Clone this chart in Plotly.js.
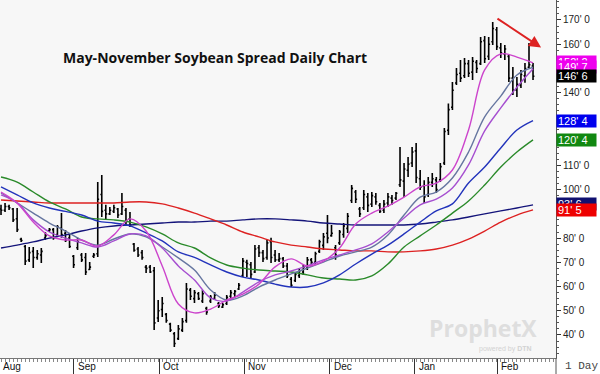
<!DOCTYPE html>
<html><head><meta charset="utf-8">
<script src="https://cdn.plot.ly/plotly-3.0.1.min.js"></script>
<style>html,body{margin:0;padding:0;background:#fff}#chart{width:600px;height:374px}</style>
</head><body><div id="chart"></div>
<script>
// Daily bars (index = trading day from early Aug)
const high  = [93.7,94.5,93.7,92.4,92.4,80.1,77.1,76.3,76.3,75.1,75.9,82.5,84.2,84.2,85.4,90.3,83.3,82.1,73.0,80.1,73.8,73.8,70.1,73.8,103.1,106.0,93.7,92.8,93.7,92.4,98.6,92.4,90.8,78.0,76.3,75.1,68.9,68.9,68.1,54.4,55.7,49.1,45.0,41.2,44.1,47.0,61.5,59.4,58.6,57.7,58.6,51.6,56.5,57.7,53.6,53.2,56.5,58.6,58.6,61.5,71.8,71.0,70.1,77.1,77.1,75.1,79.3,80.1,75.1,73.8,72.2,69.7,63.9,66.0,67.6,68.9,72.2,71.8,74.3,79.3,82.1,89.5,85.4,77.1,83.3,86.2,90.3,101.9,99.8,92.8,99.8,98.6,99.0,98.6,94.5,95.7,98.6,97.8,99.0,117.6,111.0,113.5,117.6,119.2,108.1,103.9,105.2,106.9,105.2,111.0,125.4,135.5,144.4,150.2,153.5,154.3,153.5,154.7,153.5,163.0,163.4,163.0,169.2,167.1,160.5,159.7,155.6,150.6,146.5,149.4,152.3,160.5,152.3];
const low   = [89.5,90.8,91.6,86.6,82.5,78.4,68.9,70.1,67.6,71.0,69.7,79.3,82.5,79.3,80.9,80.1,78.4,75.9,67.6,75.1,70.1,64.8,66.8,71.8,72.2,88.7,87.5,89.5,90.3,88.3,89.5,85.4,84.6,74.3,72.2,71.0,65.6,65.6,42.1,45.4,47.4,45.0,41.2,35.0,37.9,41.2,45.0,54.4,53.2,54.4,53.2,48.3,53.2,54.4,51.1,51.1,52.4,55.3,55.7,58.6,63.9,63.9,63.5,65.6,72.2,70.1,71.0,69.7,70.1,70.1,67.6,63.5,59.8,61.9,63.5,64.8,66.8,68.1,68.9,73.8,75.1,77.9,80.5,71.0,77.1,80.1,82.1,94.5,94.5,88.7,91.6,90.8,92.8,93.7,90.3,90.3,92.8,93.7,95.7,101.1,96.9,105.2,109.3,102.7,99.8,94.5,96.9,101.1,98.6,103.1,110.2,122.5,132.9,143.2,144.4,146.1,146.5,145.2,148.1,151.4,152.3,153.5,159.7,157.6,154.3,153.5,144.4,139.0,138.2,141.9,144.1,150.2,145.2];
const close = [91.5,93.0,92.5,87.5,83.5,79.0,70.5,74.0,72.0,73.5,74.5,81.0,83.5,80.0,84.5,81.5,79.0,76.5,69.0,78.5,71.0,66.0,68.0,73.0,96.0,91.0,90.0,91.5,92.5,89.5,93.0,87.0,85.5,75.0,73.0,72.0,67.5,66.0,45.0,50.0,53.0,46.0,42.0,36.5,42.5,45.5,59.0,56.0,57.5,55.0,57.0,49.5,55.5,56.5,52.0,52.5,55.5,57.5,58.0,60.5,70.5,69.5,65.0,75.5,74.0,71.5,78.0,72.0,71.0,71.5,68.5,64.5,60.5,65.0,66.5,68.0,71.0,70.0,73.5,78.5,80.5,80.0,82.0,73.0,82.5,85.0,89.0,100.5,96.0,90.0,98.0,93.5,97.5,95.0,91.0,94.0,97.0,95.5,98.5,104.0,108.5,110.5,115.5,105.0,101.0,97.0,103.0,104.5,100.0,109.5,124.0,133.0,141.0,147.5,146.0,152.0,148.0,153.0,150.0,161.0,154.0,160.0,166.5,159.0,156.5,158.0,146.0,141.0,143.5,147.5,150.0,151.5,146.75];
const open  = [92.0,91.5,93.0,92.0,88.0,79.5,76.5,71.0,74.5,72.0,73.0,80.0,83.0,83.5,81.5,84.0,82.0,80.0,72.5,76.0,73.0,72.0,67.0,72.5,73.5,98.0,91.5,90.0,91.0,92.0,90.0,91.5,88.0,77.5,75.5,74.0,68.0,68.0,66.5,47.0,50.5,48.5,44.5,40.5,38.5,42.0,46.0,58.5,55.0,57.0,54.0,51.0,54.0,55.0,53.0,51.5,53.0,56.0,57.0,59.0,64.5,70.0,69.0,66.0,76.0,74.0,72.0,78.5,73.0,71.0,71.5,68.5,63.0,62.5,64.5,66.0,67.5,71.0,70.0,74.5,77.0,82.0,81.0,76.0,78.0,81.5,84.0,95.5,99.0,92.0,92.5,97.0,94.0,97.0,93.5,91.5,94.5,96.5,96.5,102.0,103.5,108.0,111.0,116.0,104.5,101.5,98.0,103.0,104.0,104.0,111.0,124.5,134.0,144.0,148.0,147.0,152.0,148.5,152.5,152.0,161.5,155.0,161.0,166.0,158.5,156.0,155.0,146.0,141.0,143.0,147.0,150.5,151.0];

// Moving averages read at sample days
const maDay   = [0,4,8,12,16,20,24,28,32,36,40,44,48,52,56,60,64,68,72,76,80,84,88,92,96,100,104,108,112,116,120,124,128,132];
const maFast  = [99.0,94.5,86.6,80.9,79.2,79.2,76.7,81.3,87.9,82.9,68.5,52.8,49.1,50.7,54.4,56.9,61.0,68.1,71.4,68.5,70.5,75.9,85.8,90.3,93.2,96.9,101.1,102.7,108.1,124.6,149.4,156.0,154.7,152.3];
const maViolet= [97.8,94.5,87.5,82.5,80.0,78.0,76.3,78.8,81.7,80.9,75.9,68.5,62.7,55.3,54.0,57.7,61.9,64.8,66.4,68.5,71.0,73.0,75.1,77.6,82.5,88.3,93.7,96.1,100.7,110.2,124.2,133.7,142.3,149.9];
const maSlate = [98.6,94.5,90.3,86.2,82.9,79.2,77.1,79.6,81.7,80.5,76.3,71.8,66.8,58.6,54.4,56.1,59.8,62.7,65.2,67.6,70.1,72.6,74.3,76.3,81.3,89.5,96.9,99.0,104.8,115.5,130.0,138.6,147.3,150.5];
const maBlue  = [101.1,97.8,94.5,92.4,91.0,89.5,87.0,86.2,85.0,82.1,78.8,74.3,72.0,68.9,66.0,63.9,62.7,61.0,59.8,59.8,61.5,64.8,69.3,73.4,77.1,81.7,86.6,91.2,94.1,102.7,109.3,117.2,124.6,128.5];
const maGreen = [105.2,103.1,99.0,94.9,92.0,88.7,87.9,87.5,86.6,84.6,81.7,78.0,75.9,71.8,68.9,67.6,66.8,66.4,66.0,64.8,63.5,63.1,62.7,64.4,69.3,76.3,80.9,85.4,90.3,95.3,101.9,109.3,115.5,120.5];
const maRed   = [95.7,95.3,94.9,94.5,94.5,94.5,94.5,94.5,94.9,94.9,94.1,92.4,90.3,87.9,85.4,82.5,80.5,78.4,77.1,76.3,75.5,75.1,74.7,74.7,74.3,74.3,74.7,75.5,77.1,79.6,82.9,86.6,89.5,91.6];
const maNavy  = [75.9,77.1,78.4,80.0,81.3,82.9,84.2,85.0,85.4,85.8,86.2,86.6,86.6,87.0,87.0,87.5,87.9,87.9,87.5,87.0,86.2,85.8,85.4,85.4,85.4,85.4,85.8,86.6,87.5,88.7,90.0,91.2,92.4,93.7];

const monthNames = ["Sep","Oct","Nov","Dec","Jan","Feb"];
const monthStart = [18.1,39.2,60.3,81.6,102.7,123.1];
const yTicks = [40,50,60,70,80,90,100,110,120,130,140,150,160,170];
// 90, 120, 130 and 150 are covered by the last-value boxes in the reference
const yTickText = ["40' 0","50' 0","60' 0","70' 0","80' 0","","100' 0","110' 0","","","140' 0","","160' 0","170' 0"];
const lastLabels = [
  {text:"152' 2", v:152.5, bg:"#ee00ee"},
  {text:"149' 7", v:150.6, bg:"#ee00ee"},
  {text:"146' 6", v:146.75, bg:"#000000"},
  {text:"128' 4", v:128.5, bg:"#0000ee"},
  {text:"120' 4", v:120.5, bg:"#118811"},
  {text:"93' 6", v:94.2, bg:"#101070"},
  {text:"91' 5", v:91.6, bg:"#ee0000"}
];

const lineCfg = [
  [maNavy,'#14147a'],[maRed,'#dd2222'],[maGreen,'#2a8a2a'],[maBlue,'#2233bb'],
  [maSlate,'#6676a0'],[maViolet,'#a64fd0'],[maFast,'#cc44cc']
];
const traces = lineCfg.map(([d,c]) => ({type:'scatter',mode:'lines',x:maDay,y:d,
  line:{color:c,width:1.4,shape:'spline',smoothing:1},hoverinfo:'skip'}));
traces.push({type:'ohlc',open:open,high:high,low:low,close:close,tickwidth:0.35,
  increasing:{line:{color:'#000',width:1.6}},decreasing:{line:{color:'#000',width:1.6}},hoverinfo:'skip'});

const ann = [];
ann.push({xref:'paper',yref:'paper',x:0.002,y:-0.023,xanchor:'left',yanchor:'middle',text:'Aug',showarrow:false,
  font:{family:'Liberation Sans',size:10,color:'#111'}});
monthNames.forEach((m,k)=>ann.push({xref:'x',yref:'paper',x:monthStart[k]+0.4,y:-0.023,xanchor:'left',yanchor:'middle',
  text:m,showarrow:false,font:{family:'Liberation Sans',size:10,color:'#111'}}));
ann.push({xref:'paper',yref:'paper',x:1.012,y:-0.023,xanchor:'left',yanchor:'middle',text:'1 Day',showarrow:false,
  font:{family:'Liberation Mono',size:11,color:'#444'}});
lastLabels.forEach(l=>ann.push({xref:'paper',yref:'y',x:1.0,y:l.v,xanchor:'left',yanchor:'middle',text:l.text,
  showarrow:false,bgcolor:l.bg,width:37,align:'left',borderpad:1,height:10,
  font:{family:'Liberation Sans',size:11,color:'#fff'}}));
ann.push({xref:'x',yref:'y',x:134.0,y:158.6,axref:'x',ayref:'y',ax:122.8,ay:171.0,showarrow:true,
  arrowcolor:'#dd2222',arrowwidth:2,arrowhead:2,arrowsize:1.2,text:''});
ann.push({xref:'paper',yref:'paper',x:0.868,y:0.083,xanchor:'center',yanchor:'middle',showarrow:false,
  text:'<b>ProphetX</b>',font:{family:'Open Sans',size:23,color:'#dedede'}});
ann.push({xref:'paper',yref:'paper',x:0.91,y:0.025,xanchor:'center',yanchor:'middle',showarrow:false,
  text:'powered by <b>DTN</b>',font:{family:'Liberation Sans',size:7,color:'#d2d2d2'}});

const layout = {
  width:600,height:374,margin:{l:0,r:44,t:0,b:16},
  paper_bgcolor:'#ffffff',plot_bgcolor:'#f7f7f7',showlegend:false,
  title:{text:'<b>May-November Soybean Spread Daily Chart</b>',x:68/600,xanchor:'left',xref:'paper',
    y:1-58/374,yanchor:'middle',font:{family:'Open Sans',size:14,color:'#111'}},
  xaxis:{range:[-0.25,137.7],rangeslider:{visible:false},showgrid:false,zeroline:false,
    tickmode:'array',tickvals:monthStart,showticklabels:false,ticks:'outside',ticklen:16,tickwidth:1,tickcolor:'#333',
    showline:true,linecolor:'#777',linewidth:1,
    minor:{tickmode:'linear',tick0:0,dtick:1,ticks:'outside',ticklen:3,tickcolor:'#888',showgrid:false}},
  yaxis:{side:'right',range:[30.5,178.25],showgrid:false,zeroline:false,tickmode:'array',tickvals:yTicks,ticktext:yTickText,
    ticks:'outside',ticklen:4,tickcolor:'#333',showline:true,linecolor:'#555',linewidth:1,
    tickfont:{family:'Liberation Sans',size:10,color:'#222'},
    minor:{tickmode:'linear',tick0:0,dtick:2.5,ticks:'outside',ticklen:2,tickcolor:'#555',showgrid:false}},
  shapes:[{type:'line',xref:'paper',yref:'paper',x0:1,x1:1,y0:-0.045,y1:0,line:{color:'#555',width:1}}],
  annotations:ann
};
Plotly.newPlot('chart',traces,layout,{staticPlot:true,displayModeBar:false});
</script></body></html>
